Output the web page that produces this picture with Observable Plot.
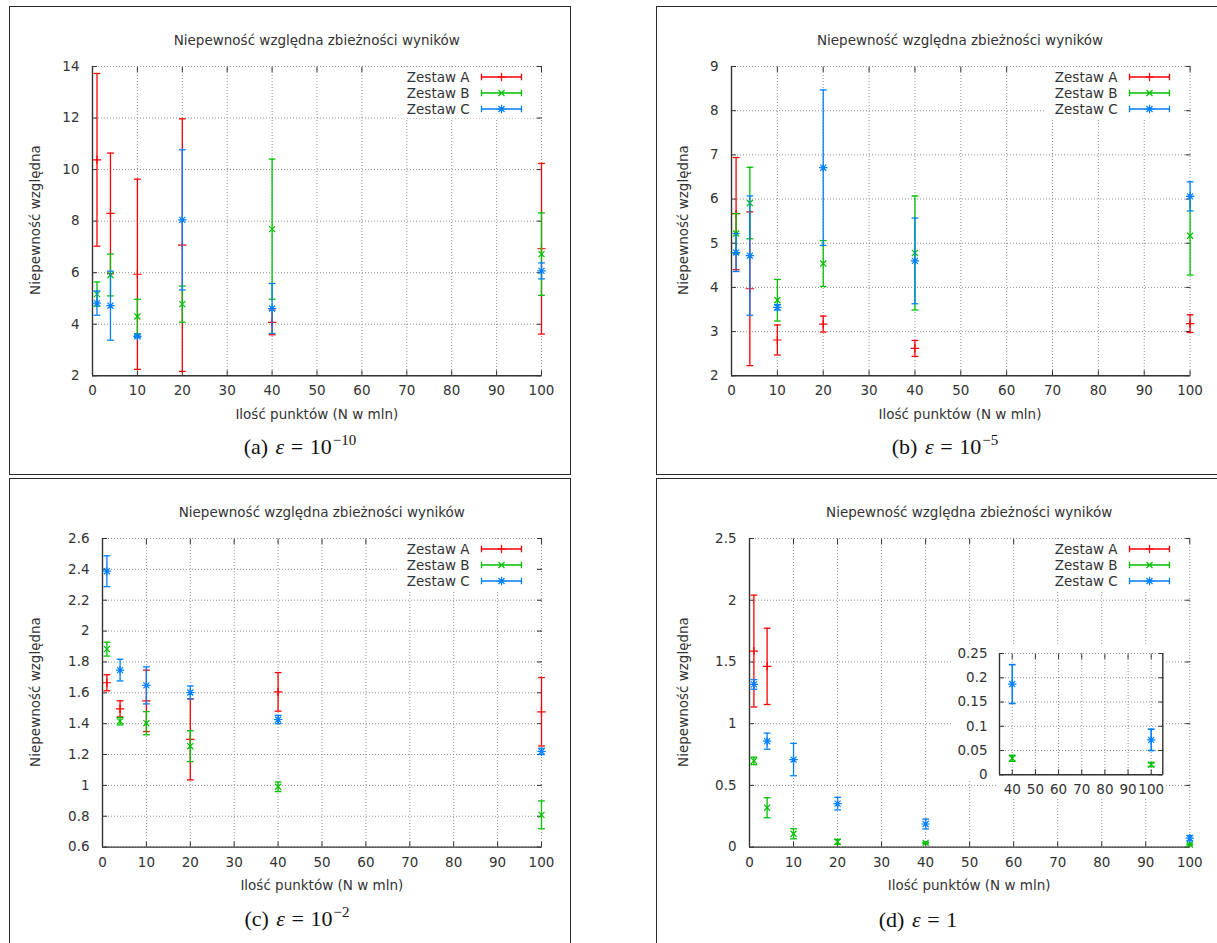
<!DOCTYPE html>
<html><head><meta charset="utf-8">
<script src="https://cdn.jsdelivr.net/npm/d3@7"></script>
<script src="https://cdn.jsdelivr.net/npm/@observablehq/plot@0.6"></script>
<style>
html,body{margin:0;padding:0;background:#fff;}
body{width:1217px;height:943px;overflow:hidden;position:relative;font-family:"DejaVu Sans",sans-serif;color:#333;}
.box{position:absolute;border:1.5px solid #2a2a2a;box-sizing:border-box;}
.abs{position:absolute;}
.ctr{position:absolute;transform:translate(-50%,-50%);white-space:nowrap;}
.title{font-size:13.5px;}
.xlab{font-size:13.5px;}
.ylab{font-size:13.5px;transform:translate(-50%,-50%) rotate(-90deg);}
.cap{font-family:"Liberation Serif","Times New Roman",serif;font-size:22px;color:#111;}
.cap i{font-style:italic;margin-left:2px;}
.cap .eq{margin:0 0.3em;}
.cap sup{font-size:15px;vertical-align:0;position:relative;top:-9px;margin-left:1px;}
.legend{position:absolute;background:#fff;}
.legrow{position:absolute;font-size:13.5px;white-space:nowrap;line-height:14px;}
.white{position:absolute;background:#fff;}
</style></head>
<body>
<script>
// ---------------- DATA ----------------
const N = [1, 4, 10, 20, 40, 100];
const seriesNames = ["Zestaw A", "Zestaw B", "Zestaw C"];
const xTicks = [0, 10, 20, 30, 40, 50, 60, 70, 80, 90, 100];
const insetXTicks = [40, 50, 60, 70, 80, 90, 100];

// (a) eps = 1e-10
const a_yTicks = [2, 4, 6, 8, 10, 12, 14];
const a_A_y = [10.38, 8.30, 5.94, 7.07, 4.07, 6.93];
const a_A_e = [3.35, 2.34, 3.69, 4.90, 0.48, 3.31];
const a_B_y = [5.17, 5.91, 4.30, 4.78, 7.69, 6.72];
const a_B_e = [0.47, 0.81, 0.67, 0.70, 2.72, 1.60];
const a_C_y = [4.82, 4.72, 3.53, 8.05, 4.61, 6.07];
const a_C_e = [0.47, 1.34, 0.05, 2.72, 0.97, 0.31];

// (b) eps = 1e-5
const b_yTicks = [2, 3, 4, 5, 6, 7, 8, 9];
const b_A_y = [5.67, 3.97, 2.81, 3.17, 2.62, 3.18];
const b_A_e = [1.27, 1.74, 0.34, 0.18, 0.18, 0.20];
const b_B_y = [5.22, 5.91, 3.71, 4.54, 4.78, 5.17];
const b_B_e = [0.45, 0.81, 0.47, 0.52, 1.29, 0.89];
const b_C_y = [4.79, 4.72, 3.55, 6.71, 4.60, 6.06];
const b_C_e = [0.43, 1.35, 0.06, 1.76, 0.97, 0.33];

// (c) eps = 1e-2
const c_yTicks = [0.6, 0.8, 1.0, 1.2, 1.4, 1.6, 1.8, 2.0, 2.2, 2.4, 2.6];
const c_A_y = [1.665, 1.496, 1.548, 1.298, 1.606, 1.477];
const c_A_e = [0.052, 0.052, 0.199, 0.262, 0.125, 0.222];
const c_B_y = [1.883, 1.416, 1.403, 1.254, 0.991, 0.809];
const c_B_e = [0.045, 0.024, 0.075, 0.100, 0.031, 0.090];
const c_C_y = [2.388, 1.747, 1.648, 1.602, 1.427, 1.220];
const c_C_e = [0.100, 0.070, 0.120, 0.042, 0.027, 0.020];

// (d) eps = 1
const d_yTicks = [0, 0.5, 1.0, 1.5, 2.0, 2.5];
const d_A_y = [1.588, 1.464, null, null, null, null];
const d_A_e = [0.453, 0.309, null, null, null, null];
const d_B_y = [0.698, 0.319, 0.108, 0.043, 0.034, 0.021];
const d_B_e = [0.030, 0.081, 0.041, 0.020, 0.006, 0.004];
const d_C_y = [1.318, 0.858, 0.709, 0.352, 0.187, 0.072];
const d_C_e = [0.039, 0.065, 0.131, 0.051, 0.040, 0.022];
const inset_yTicks = [0, 0.05, 0.1, 0.15, 0.2, 0.25];

const titleText = "Niepewność względna zbieżności wyników";
const xLabelText = "Ilość punktów (N w mln)";
const yLabelText = "Niepewność względna";

// ---------------- STYLE ----------------
const COLORS = ["#ff0000", "#00c000", "#0080ff"];
const INK = "#333";
const GRID = "#8f8f8f";

function rad(size) { return Math.sqrt(size / Math.PI); }
const capSym = {draw(c, s) { const r = rad(s); c.moveTo(-r, 0); c.lineTo(r, 0); }};
const plusSym = {draw(c, s) { const r = rad(s); c.moveTo(-r, 0); c.lineTo(r, 0); c.moveTo(0, -r); c.lineTo(0, r); }};
const timesSym = {draw(c, s) { const r = rad(s) * 0.72; c.moveTo(-r, -r); c.lineTo(r, r); c.moveTo(-r, r); c.lineTo(r, -r); }};
const starSym = {draw(c, s) { plusSym.draw(c, s); timesSym.draw(c, s); }};
const SYMS = [plusSym, timesSym, starSym];

function rows(ys, es) {
  return N.map((n, i) => ys[i] == null ? null : ({N: n, y: ys[i], lo: ys[i] - es[i], hi: ys[i] + es[i]})).filter(Boolean);
}

function fmt(d) { return String(+(+d).toFixed(2)); }

function frameMarks(xT, yT, xDom, yDom, opts = {}) {
  const gridStyle = {stroke: GRID, strokeOpacity: 1, strokeWidth: 1, strokeDasharray: "1,2"};
  const m = [
    Plot.gridX(xT, gridStyle),
    Plot.gridY(yT, gridStyle),
    Plot.ruleX([xDom[0]], {stroke: INK, strokeWidth: 1.4}),
    Plot.ruleY([yDom[0]], {stroke: INK, strokeWidth: 1.4}),
    Plot.axisX(xT, {anchor: "bottom", tickSize: -5, fill: "none", stroke: INK, label: null}),
    Plot.axisX(xT, {anchor: "top", tickSize: -5, fill: "none", stroke: INK, label: null}),
    Plot.axisY(yT, {anchor: "left", tickSize: -5, fill: "none", stroke: INK, label: null}),
    Plot.axisY(yT, {anchor: "right", tickSize: -5, fill: "none", stroke: INK, label: null}),
    Plot.axisX(xT, {anchor: "bottom", tickSize: 0, tickPadding: opts.xPad ?? 10, label: null, fill: INK, tickFormat: fmt}),
    Plot.axisY(yT, {anchor: "left", tickSize: 0, tickPadding: opts.yPad ?? 13, label: null, fill: INK, tickFormat: fmt})
  ];
  if (opts.rightBorder) m.push(Plot.ruleX([xDom[1]], {stroke: INK, strokeWidth: 1.4}));
  return m;
}

function seriesMarks(sets, sw = 1.3) {
  const m = [];
  sets.forEach((d, k) => {
    const col = COLORS[k];
    m.push(
      Plot.ruleX(d, {x: "N", y1: "lo", y2: "hi", stroke: col, strokeWidth: sw}),
      Plot.dot(d, {x: "N", y: "hi", symbol: capSym, r: 3.4, stroke: col, strokeWidth: sw, fill: "none"}),
      Plot.dot(d, {x: "N", y: "lo", symbol: capSym, r: 3.4, stroke: col, strokeWidth: sw, fill: "none"}),
      Plot.dot(d, {x: "N", y: "y", symbol: SYMS[k], r: 4.2, stroke: col, strokeWidth: 1.2, fill: "none"})
    );
  });
  return m;
}

function el(cls, style, html) {
  const e = document.createElement("div");
  e.className = cls;
  Object.assign(e.style, style);
  if (html != null) e.innerHTML = html;
  document.body.appendChild(e);
  return e;
}

function legendSample(k) {
  const col = COLORS[k];
  const sym = ["M16.3,6h8.4M20.5,1.8v8.4", "M17.5,3l6,6M17.5,9l6,-6", "M16.3,6h8.4M20.5,1.8v8.4M17.5,3l6,6M17.5,9l6,-6"][k];
  return `<svg width="42" height="12" style="position:absolute;left:0px;top:1px;overflow:visible">
    <path d="M0.5,6H40.5M0.5,2.8V9.2M40.5,2.8V9.2" stroke="${col}" stroke-width="1.3" fill="none"/>
    <path d="${sym}" stroke="${col}" stroke-width="1.2" fill="none"/></svg>`;
}

function capHtml(letter, power) {
  return `(${letter}) <i>ε</i><span class="eq">=</span>${power}`;
}

const panels = [
  {box: [9, 6], L: 92.3, R: 541.3, T: 65.7, B: 375, yDom: [2, 14], yT: a_yTicks, ylabX: 35,
   data: [[a_A_y, a_A_e], [a_B_y, a_B_e], [a_C_y, a_C_e]],
   cap: [300, 447, capHtml("a", "10<sup>−10</sup>")]},
  {box: [655.5, 6], L: 730.7, R: 1189.3, T: 65.7, B: 375, yDom: [2, 9], yT: b_yTicks, ylabX: 683,
   data: [[b_A_y, b_A_e], [b_B_y, b_B_e], [b_C_y, b_C_e]],
   cap: [945, 447, capHtml("b", "10<sup>−5</sup>")]},
  {box: [9, 477.5], L: 102.3, R: 541.3, T: 537.7, B: 846.3, yDom: [0.6, 2.6], yT: c_yTicks, ylabX: 35,
   data: [[c_A_y, c_A_e], [c_B_y, c_B_e], [c_C_y, c_C_e]],
   cap: [297, 919, capHtml("c", "10<sup>−2</sup>")]},
  {box: [655.5, 477.5], L: 749, R: 1189.3, T: 537.7, B: 846.3, yDom: [0, 2.5], yT: d_yTicks, ylabX: 683,
   data: [[d_A_y, d_A_e], [d_B_y, d_B_e], [d_C_y, d_C_e]],
   cap: [918, 920, capHtml("d", "1")], inset: true}
];

panels.forEach((p) => {
  el("box", {left: p.box[0] + "px", top: p.box[1] + "px", width: "562px", height: "468.5px"});
  const mL = 70, mR = 20, mT = 10, mB = 30;
  const xDom = [0, 100];
  const sets = p.data.map(([ys, es]) => rows(ys, es));
  const svg = Plot.plot({
    width: p.R - p.L + mL + mR,
    height: p.B - p.T + mT + mB,
    marginLeft: mL, marginRight: mR, marginTop: mT, marginBottom: mB,
    style: {fontFamily: "DejaVu Sans", fontSize: "13.5px", color: INK, background: "transparent", overflow: "visible"},
    x: {domain: xDom, label: null},
    y: {domain: p.yDom, label: null},
    marks: [...frameMarks(xTicks, p.yT, xDom, p.yDom), ...seriesMarks(sets)]
  });
  Object.assign(svg.style, {position: "absolute", left: (p.L - mL) + "px", top: (p.T - mT) + "px"});
  document.body.appendChild(svg);

  const cx = (p.L + p.R) / 2;
  el("ctr title", {left: cx + "px", top: (p.T - 25.5) + "px"}, titleText);
  el("ctr xlab", {left: cx + "px", top: (p.B + 38.5) + "px"}, xLabelText);
  el("ctr ylab", {left: p.ylabX + "px", top: ((p.T + p.B) / 2) + "px"}, yLabelText);
  el("ctr cap", {left: p.cap[0] + "px", top: p.cap[1] + "px"}, p.cap[2]);

  // legend (white key box)
  el("legend", {left: (p.R - 144) + "px", top: (p.T + 1.5) + "px", width: "138px", height: "51px"});
  seriesNames.forEach((name, k) => {
    const yc = p.T + [11, 27, 43.5][k];
    el("legrow", {left: (p.R - 134.5) + "px", top: (yc - 7) + "px"}, name);
    el("abs", {left: (p.R - 60) + "px", top: (yc - 7) + "px", width: "42px", height: "12px"}, legendSample(k));
  });

  if (p.inset) {
    el("white", {left: "953px", top: "645px", width: "212px", height: "135px"});
    el("white", {left: "997px", top: "779px", width: "168px", height: "20px"});
    const iL = 999, iR = 1162.3, iT = 652.7, iB = 774;
    const im = {l: 60, r: 15, t: 10, b: 30};
    const ixDom = [34.5, 105], iyDom = [0, 0.25];
    const isets = sets.slice(1).map(d => d.filter(r => r.N >= 40));
    const isvg = Plot.plot({
      width: iR - iL + im.l + im.r,
      height: iB - iT + im.t + im.b,
      marginLeft: im.l, marginRight: im.r, marginTop: im.t, marginBottom: im.b,
      style: {fontFamily: "DejaVu Sans", fontSize: "13.5px", color: INK, background: "transparent", overflow: "visible"},
      x: {domain: ixDom, label: null},
      y: {domain: iyDom, label: null},
      marks: [
        ...frameMarks(insetXTicks, inset_yTicks, ixDom, iyDom, {rightBorder: true, yPad: 12, xPad: 10}),
        ...seriesMarks([[], ...isets], 1.6)
      ]
    });
    Object.assign(isvg.style, {position: "absolute", left: (iL - im.l) + "px", top: (iT - im.t) + "px"});
    document.body.appendChild(isvg);
  }
});
</script>
</body></html>
